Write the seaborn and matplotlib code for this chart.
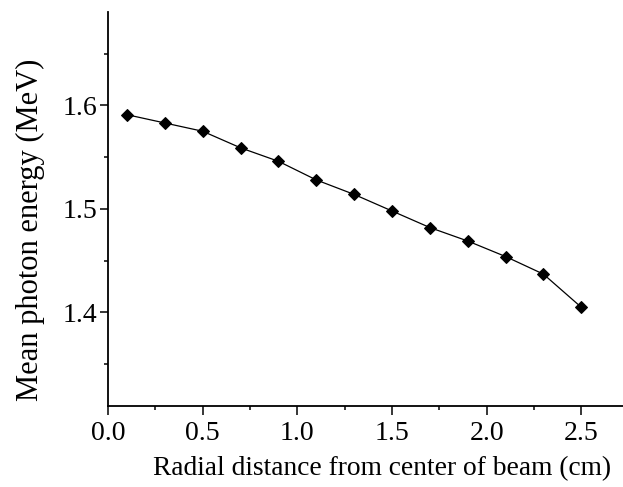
import matplotlib
matplotlib.use("Agg")
import matplotlib.pyplot as plt
import seaborn as sns
import pandas as pd
from matplotlib.ticker import MultipleLocator

radial_distance = [0.1, 0.3, 0.5, 0.7, 0.9, 1.1, 1.3, 1.5, 1.7, 1.9, 2.1, 2.3, 2.5]
mean_energy = [1.591, 1.583, 1.575, 1.559, 1.546, 1.528, 1.514, 1.498, 1.482, 1.469, 1.454, 1.437, 1.405]
x_ticks = [0.0, 0.5, 1.0, 1.5, 2.0, 2.5]
y_ticks = [1.4, 1.5, 1.6]

sns.set_theme(style="ticks")
plt.rcParams['font.family'] = ['Liberation Serif', 'DejaVu Serif']

df = pd.DataFrame({"x": radial_distance, "y": mean_energy})

fig = plt.figure(figsize=(6.23, 4.87), dpi=100)
ax = fig.add_axes([0.1734, 0.167, 0.8266, 0.808])
sns.lineplot(data=df, x="x", y="y", ax=ax, color="black", linewidth=0.9,
             marker="D", markersize=6, markeredgecolor="black", markerfacecolor="black")

ax.set_xlim(0.0, 2.72)
ax.set_ylim(1.31, 1.69)
ax.set_xticks(x_ticks)
ax.set_yticks(y_ticks)
ax.set_xticklabels([f"{v:.1f}" for v in x_ticks])
ax.set_yticklabels([f"{v:.1f}" for v in y_ticks])
ax.xaxis.set_minor_locator(MultipleLocator(0.25))
ax.yaxis.set_minor_locator(MultipleLocator(0.05))
ax.tick_params(axis="x", which="major", direction="out", length=6.5, width=1.1,
               labelsize=20, color="black", labelcolor="black", pad=4.5)
ax.tick_params(axis="y", which="major", direction="out", length=5.8, width=1.1,
               labelsize=20, color="black", labelcolor="black", pad=2.2)
ax.tick_params(axis="x", which="minor", direction="out", length=3.2, width=1.1, color="black")
ax.tick_params(axis="y", which="minor", direction="out", length=3.0, width=1.1, color="black")
for s in ["top", "right"]:
    ax.spines[s].set_visible(False)
for s in ["left", "bottom"]:
    ax.spines[s].set_color("black")
    ax.spines[s].set_linewidth(1.3)

ax.set_xlabel("Radial distance from center of beam (cm)", fontsize=19.8, color="black")
ax.set_ylabel("Mean photon energy (MeV)", fontsize=22, color="black")
ax.xaxis.set_label_coords(0.533, -0.127)
ax.yaxis.set_label_coords(-0.122, 0.446)

fig.savefig("out.png", dpi=100)
